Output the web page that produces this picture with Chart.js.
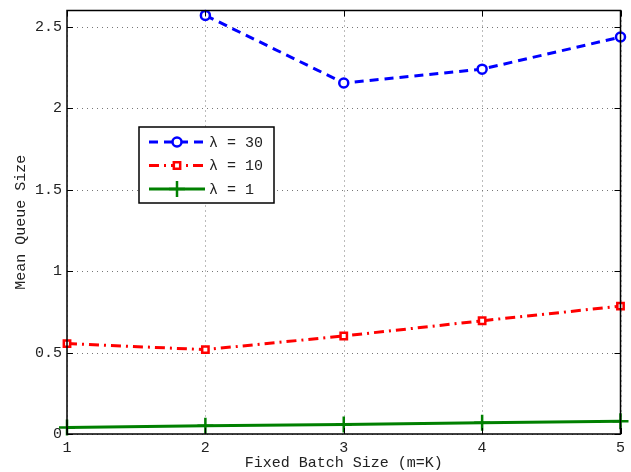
<!DOCTYPE html>
<html lang="en">
<head>
  <meta charset="UTF-8">
  <title>Mean Queue Size</title>
  <script src="https://cdn.jsdelivr.net/npm/chart.js"></script>
  <style>
    html, body { margin: 0; padding: 0; background: #fff; }
    .chart-container { position: relative; width: 631px; height: 472px; }
  </style>
</head>
<body>
  <div class="chart-container">
    <canvas id="queueChart"></canvas>
  </div>
  <script>
    // batch sizes on the x axis
    const batchSizes = [1, 2, 3, 4, 5];
    // mean queue size per arrival rate
    const lambda30 = [null, 2.57, 2.155, 2.24, 2.437];
    const lambda10 = [0.555, 0.518, 0.602, 0.695, 0.785];
    const lambda1 = [0.04, 0.05, 0.059, 0.069, 0.079];
    const seriesLabels = ['\u03bb = 30', '\u03bb = 10', '\u03bb = 1'];
    const yTicks = [0, 0.5, 1, 1.5, 2, 2.5];

    const monoFont = 'Liberation Mono, Courier New, monospace';

    const toPoints = (vals) => vals.map((v, i) => ({ x: batchSizes[i], y: v }));

    // grid, box and inner tick marks like matlab
    const matlabFrame = {
      id: 'matlabFrame',
      beforeDatasetsDraw(chart) {
        const { ctx, chartArea: a, scales: { x, y } } = chart;
        ctx.save();
        ctx.strokeStyle = '#777';
        ctx.lineWidth = 1;
        ctx.setLineDash([1, 4]);
        batchSizes.forEach(v => {
          const px = Math.round(x.getPixelForValue(v)) + 0.5;
          ctx.beginPath(); ctx.moveTo(px, a.top); ctx.lineTo(px, a.bottom); ctx.stroke();
        });
        yTicks.forEach(v => {
          const py = Math.round(y.getPixelForValue(v)) + 0.5;
          ctx.beginPath(); ctx.moveTo(a.left, py); ctx.lineTo(a.right, py); ctx.stroke();
        });
        ctx.restore();
      },
      afterDatasetsDraw(chart) {
        const { ctx, chartArea: a, scales: { x, y } } = chart;
        ctx.save();
        ctx.strokeStyle = '#000';
        ctx.lineWidth = 1;
        batchSizes.forEach(v => {
          const px = Math.round(x.getPixelForValue(v)) + 0.5;
          ctx.beginPath(); ctx.moveTo(px, a.bottom); ctx.lineTo(px, a.bottom - 6); ctx.stroke();
          ctx.beginPath(); ctx.moveTo(px, a.top); ctx.lineTo(px, a.top + 6); ctx.stroke();
        });
        yTicks.forEach(v => {
          const py = Math.round(y.getPixelForValue(v)) + 0.5;
          ctx.beginPath(); ctx.moveTo(a.left, py); ctx.lineTo(a.left + 6, py); ctx.stroke();
          ctx.beginPath(); ctx.moveTo(a.right, py); ctx.lineTo(a.right - 6, py); ctx.stroke();
        });
        ctx.lineWidth = 1.5;
        ctx.strokeRect(a.left, a.top, a.right - a.left, a.bottom - a.top);

        // legend box
        const bx = 139, by = 127, bw = 135, bh = 76;
        ctx.fillStyle = '#fff';
        ctx.fillRect(bx, by, bw, bh);
        ctx.lineWidth = 1.5;
        ctx.strokeStyle = '#000';
        ctx.strokeRect(bx, by, bw, bh);
        const rows = [142, 165.5, 189];
        chart.data.datasets.forEach((ds, i) => {
          const ry = rows[i];
          ctx.save();
          ctx.strokeStyle = ds.borderColor;
          ctx.lineWidth = ds.borderWidth;
          ctx.setLineDash(ds.borderDash || []);
          ctx.beginPath(); ctx.moveTo(149, ry); ctx.lineTo(205, ry); ctx.stroke();
          ctx.restore();
          ctx.save();
          ctx.setLineDash([]);
          ctx.strokeStyle = ds.pointBorderColor;
          ctx.fillStyle = ds.pointBackgroundColor || '#fff';
          ctx.lineWidth = ds.pointBorderWidth;
          Chart.helpers.drawPoint(ctx, {
            pointStyle: ds.pointStyle,
            radius: ds.pointRadius,
            borderWidth: ds.pointBorderWidth,
            rotation: 0
          }, 177, ry);
          ctx.restore();
          ctx.fillStyle = '#222';
          ctx.font = '15px ' + monoFont;
          ctx.textBaseline = 'middle';
          ctx.fillText(seriesLabels[i], 209, ry + 1);
        });
        ctx.restore();
      }
    };

    const chart = new Chart(document.getElementById('queueChart'), {
      type: 'line',
      data: {
        datasets: [
          {
            label: seriesLabels[0],
            data: toPoints(lambda30),
            borderColor: '#0000ff',
            backgroundColor: '#ffffff',
            borderWidth: 3,
            borderDash: [9, 6],
            pointStyle: 'circle',
            pointRadius: 4.5,
            pointBorderWidth: 2.5,
            pointBackgroundColor: '#ffffff',
            pointBorderColor: '#0000ff',
            spanGaps: false
          },
          {
            label: seriesLabels[1],
            data: toPoints(lambda10),
            borderColor: '#ff0000',
            backgroundColor: '#ffffff',
            borderWidth: 3,
            borderDash: [10, 5, 2, 5],
            pointStyle: 'rect',
            pointRadius: 4.5,
            pointBorderWidth: 2.5,
            pointBackgroundColor: '#ffffff',
            pointBorderColor: '#ff0000'
          },
          {
            label: seriesLabels[2],
            data: toPoints(lambda1),
            borderColor: '#008000',
            backgroundColor: '#008000',
            borderWidth: 3,
            pointStyle: 'cross',
            pointRadius: 8,
            pointBorderWidth: 2.5,
            pointBackgroundColor: '#008000',
            pointBorderColor: '#008000'
          }
        ]
      },
      options: {
        responsive: true,
        maintainAspectRatio: false,
        animation: false,
        clip: false,
        layout: { padding: { top: 3, right: 4, left: 0, bottom: 0 } },
        plugins: {
          legend: { display: false },
          tooltip: { enabled: false }
        },
        scales: {
          x: {
            type: 'linear',
            min: 1,
            max: 5,
            afterBuildTicks: (s) => { s.ticks = batchSizes.map(v => ({ value: v })); },
            afterFit: (s) => {
              s.height = 38;
              s.paddingLeft = 0;
              s.paddingRight = 0;
            },
            grid: { display: false, drawTicks: false },
            border: { display: false },
            ticks: {
              color: '#222',
              padding: 5,
              maxRotation: 0,
              font: { family: monoFont, size: 15 }
            },
            title: {
              display: true,
              text: 'Fixed Batch Size (m=K)',
              color: '#222',
              padding: { top: -2, bottom: 0 },
              font: { family: monoFont, size: 15 }
            }
          },
          y: {
            min: 0,
            max: 2.6,
            afterBuildTicks: (s) => { s.ticks = yTicks.map(v => ({ value: v })); },
            afterFit: (s) => {
              s.width = 67;
              s.paddingTop = 0;
              s.paddingBottom = 0;
            },
            grid: { display: false, drawTicks: false },
            border: { display: false },
            ticks: {
              color: '#222',
              padding: 5,
              callback: (v) => String(v),
              font: { family: monoFont, size: 15 }
            },
            title: {
              display: true,
              text: 'Mean Queue Size',
              color: '#222',
              padding: { top: 12, bottom: 0 },
              font: { family: monoFont, size: 15 }
            }
          }
        }
      },
      plugins: [matlabFrame]
    });
  </script>
</body>
</html>
